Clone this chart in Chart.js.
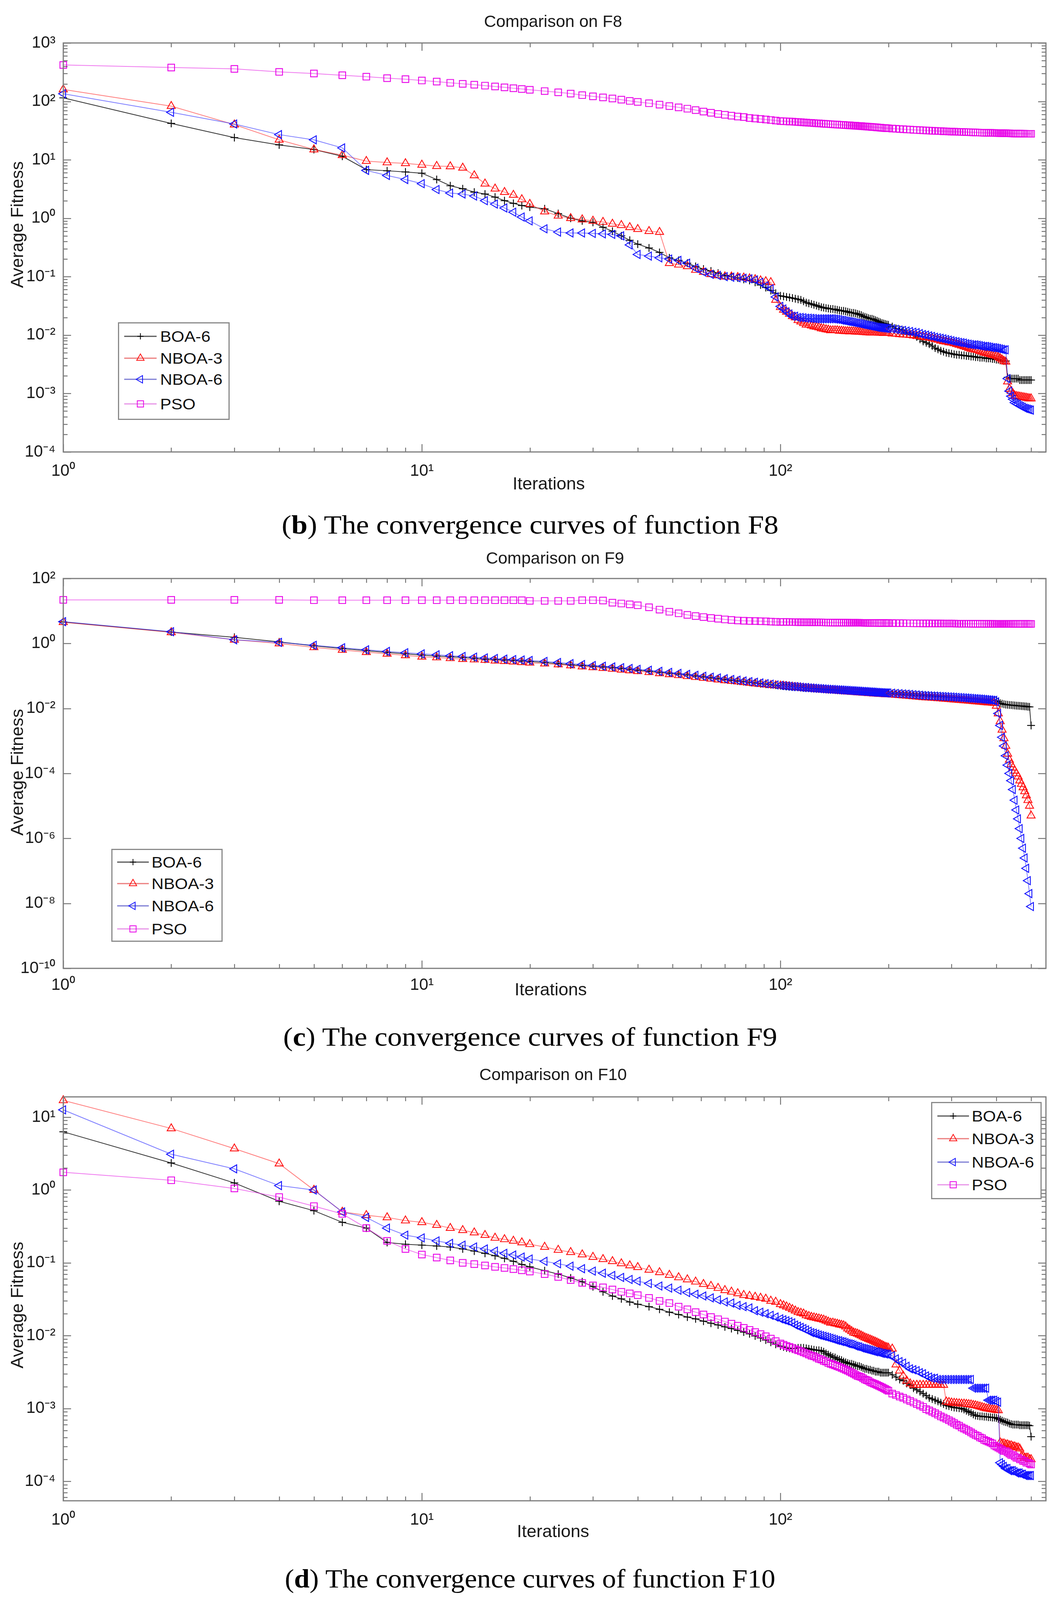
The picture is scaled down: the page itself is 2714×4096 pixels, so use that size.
<!DOCTYPE html>
<html><head><meta charset="utf-8">
<script src="https://cdn.jsdelivr.net/npm/chart.js@4/dist/chart.umd.min.js"></script>
<style>
html,body{margin:0;padding:0;background:#fff;}
body{width:2714px;height:4096px;position:relative;overflow:hidden;font-family:'Liberation Sans',Arial,sans-serif;}
canvas.cv{position:absolute;left:0;}
.legend{position:absolute;background:#fff;border:3px solid #8a8a8a;box-sizing:border-box;}
.legend .txt{position:absolute;font-size:39px;color:#111;white-space:nowrap;line-height:1;transform-origin:left center;}
.legend svg{position:absolute;overflow:visible;}
.caption{position:absolute;left:0;width:2714px;text-align:center;font-family:'Liberation Serif','Times New Roman',serif;font-size:68px;line-height:76px;white-space:nowrap;color:#000;}
.caption .inner{display:inline-block;transform-origin:center center;}
</style></head><body>
<canvas id="c8" class="cv" width="2714" height="1290" style="top:0px"></canvas>
<canvas id="c9" class="cv" width="2714" height="1220" style="top:1380px"></canvas>
<canvas id="c10" class="cv" width="2714" height="1260" style="top:2700px"></canvas>
<div class="caption" style="top:1305px"><span class="inner" data-w="1272">(<b>b</b>) The convergence curves of function F8</span></div>
<div class="caption" style="top:2616px"><span class="inner" data-w="1265">(<b>c</b>) The convergence curves of function F9</span></div>
<div class="caption" style="top:4003px"><span class="inner" data-w="1256">(<b>d</b>) The convergence curves of function F10</span></div>
<script>
// ---------------- data ----------------
const seriesNames = ['BOA-6', 'NBOA-3', 'NBOA-6', 'PSO'];
const iterations = [1,2,3,4,5,6,7,8,9,10,11,12,13,14,15,16,17,18,19,20,
  22,24,26,28,30,32,34,36,38,40,
  43,46,49,52,55,58,61,64,67,70,
  73,76,79,82,85,88,91,94,97,100,
  102,104,106,108,110,112,114,116,118,120,122,124,126,128,130,132,134,136,138,140,
  142,144,146,148,150,152,154,156,158,160,162,164,166,168,170,172,174,176,178,180,
  182,184,186,188,190,192,194,196,198,200,
  205,210,215,220,225,230,235,240,245,250,255,260,265,270,275,280,285,290,295,300,
  305,310,315,320,325,330,335,340,345,350,355,360,365,370,375,380,385,390,395,400,
  405,410,415,420,425,430,435,440,445,450,455,460,465,470,475,480,485,490,495,500];

const xTickDecades = [0, 1, 2];
const f8YTickDecades = [-4, -3, -2, -1, 0, 1, 2, 3];
const f9YTickDecades = [-10, -8, -6, -4, -2, 0, 2];
const f10YTickDecades = [-4, -3, -2, -1, 0, 1];

// F8
const f8BOA6 = [115,42,24,18,15,11.5,6.8,6.5,6.2,5.9,4.6,3.6,3.2,2.8,2.6,2.3,2.0,1.8,1.65,1.55,
  1.45,1.2,1.0,0.9,0.85,0.7,0.6,0.5,0.42,0.36,
  0.31,0.26,0.21,0.19,0.17,0.15,0.135,0.125,0.115,0.105,
  0.1,0.095,0.09,0.086,0.08,0.072,0.065,0.058,0.052,0.047,
  0.046,0.045,0.044,0.043,0.042,0.041,0.04,0.038,0.036,0.035,
  0.034,0.033,0.032,0.031,0.03,0.0295,0.029,0.0285,0.028,0.028,
  0.0275,0.027,0.0265,0.026,0.026,0.0255,0.025,0.0245,0.024,0.024,
  0.0235,0.023,0.0225,0.022,0.021,0.0205,0.02,0.0195,0.019,0.019,
  0.0185,0.018,0.0175,0.017,0.0165,0.016,0.0158,0.0155,0.0152,0.015,
  0.014,0.013,0.0125,0.012,0.011,0.0105,0.01,0.0093,0.0085,0.0078,
  0.0074,0.007,0.0065,0.006,0.0057,0.0054,0.0052,0.005,0.0049,0.0048,
  0.0047,0.0046,0.0046,0.0045,0.0045,0.0044,0.0044,0.0043,0.0043,0.0042,
  0.0042,0.0041,0.0041,0.0041,0.004,0.004,0.004,0.0039,0.0039,0.0038,
  0.0038,0.0037,0.0037,0.0036,0.0036,0.0019,0.0018,0.0018,0.0018,0.0018,
  0.0018,0.0018,0.0017,0.0017,0.0017,0.0017,0.0017,0.0017,0.0017,0.0017];
const f8NBOA3 = [160,83,40,22,15,12,9.5,9.0,8.7,8.2,7.8,7.7,7.3,5.4,3.9,3.2,2.8,2.5,2.1,1.75,
  1.3,1.1,1.0,0.95,0.9,0.86,0.8,0.76,0.7,0.65,
  0.6,0.58,0.17,0.16,0.15,0.13,0.12,0.11,0.105,0.1,
  0.1,0.098,0.096,0.093,0.09,0.086,0.083,0.08,0.04,0.03,
  0.027,0.025,0.023,0.021,0.02,0.018,0.017,0.016,0.015,0.015,
  0.0145,0.014,0.0138,0.0135,0.013,0.0128,0.0125,0.0123,0.012,0.012,
  0.012,0.012,0.0118,0.0118,0.0117,0.0116,0.0116,0.0115,0.0115,0.0115,
  0.0114,0.0114,0.0113,0.0113,0.0112,0.0112,0.0111,0.0111,0.011,0.011,
  0.011,0.011,0.011,0.0109,0.0109,0.0109,0.0108,0.0108,0.0108,0.0108,
  0.0106,0.0105,0.0103,0.0102,0.0101,0.01,0.0098,0.0096,0.0095,0.0093,
  0.0091,0.009,0.0088,0.0085,0.0083,0.008,0.0078,0.0077,0.0075,0.0074,
  0.0072,0.007,0.0068,0.0066,0.0064,0.0062,0.006,0.0058,0.0057,0.0056,
  0.0055,0.0053,0.0052,0.005,0.0049,0.0048,0.0047,0.0046,0.0045,0.0044,
  0.0042,0.004,0.0038,0.0036,0.0035,0.0016,0.0012,0.0011,0.001,0.00092,
  0.0009,0.00089,0.00088,0.00087,0.00086,0.00085,0.00084,0.00083,0.00082,0.00082];
const f8NBOA6 = [135,65,41,27,22,16,6.6,5.4,4.6,3.9,3.1,2.7,2.6,2.4,2.0,1.75,1.5,1.27,1.05,0.9,
  0.66,0.58,0.56,0.56,0.55,0.54,0.53,0.5,0.35,0.24,
  0.225,0.21,0.2,0.19,0.17,0.14,0.12,0.11,0.105,0.1,
  0.098,0.096,0.094,0.092,0.088,0.08,0.07,0.062,0.045,0.031,
  0.028,0.025,0.023,0.021,0.021,0.02,0.02,0.0198,0.0195,0.0195,
  0.0193,0.0192,0.019,0.019,0.019,0.019,0.019,0.019,0.019,0.019,
  0.0188,0.0186,0.0184,0.018,0.0178,0.0175,0.0172,0.017,0.0168,0.0165,
  0.0162,0.016,0.0158,0.0155,0.0152,0.015,0.0148,0.0146,0.0144,0.0142,
  0.014,0.0138,0.0136,0.0135,0.0134,0.0133,0.0132,0.0131,0.013,0.013,
  0.0128,0.0125,0.0122,0.012,0.0117,0.0115,0.0112,0.011,0.0106,0.0102,
  0.01,0.0097,0.0095,0.0092,0.009,0.0088,0.0086,0.0084,0.0082,0.008,
  0.0078,0.0077,0.0075,0.0074,0.0073,0.0071,0.007,0.0069,0.0068,0.0068,
  0.0067,0.0066,0.0065,0.0064,0.0064,0.0063,0.0062,0.0061,0.0061,0.006,
  0.0059,0.0058,0.0057,0.0056,0.0056,0.0018,0.0011,0.0009,0.0008,0.0007,
  0.00067,0.00065,0.00062,0.0006,0.00058,0.00056,0.00055,0.00054,0.00053,0.00052];
const f8PSO = [420,380,360,320,300,280,265,250,240,228,218,208,200,193,186,180,174,168,163,158,
  150,143,136,128,122,117,112,107,102,98,
  93,88,83,79,75,71,67,64,61,59,
  57,55,54,52,51,50,49,48,47,46,
  45.8,45.5,45.2,45,44.6,44.3,44,43.7,43.4,43.1,
  42.8,42.5,42.2,42,41.7,41.4,41.2,41,40.7,40.5,
  40.3,40.1,39.9,39.7,39.5,39.3,39.1,38.9,38.7,38.5,
  38.3,38.1,37.9,37.7,37.5,37.3,37.1,36.9,36.7,36.5,
  36.3,36.1,35.9,35.7,35.5,35.3,35.1,34.9,34.8,34.6,
  34.3,34,33.7,33.4,33.1,32.9,32.6,32.4,32.2,32,
  31.8,31.6,31.4,31.3,31.1,31,30.8,30.7,30.5,30.4,
  30.3,30.2,30.1,30,29.9,29.8,29.7,29.6,29.5,29.4,
  29.3,29.2,29.1,29,29,28.9,28.9,28.8,28.8,28.7,
  28.7,28.6,28.6,28.5,28.5,28.4,28.4,28.3,28.3,28.2,
  28.2,28.1,28.1,28,28,28,27.9,27.9,27.9,27.9];

// F9
const f9BOA6 = [4.6,2.25,1.55,1.12,0.85,0.7,0.6,0.53,0.48,0.44,0.41,0.39,0.37,0.35,0.33,0.32,0.31,0.3,0.29,0.28,
  0.26,0.24,0.22,0.21,0.2,0.19,0.18,0.17,0.16,0.15,
  0.14,0.13,0.122,0.115,0.108,0.1,0.094,0.088,0.083,0.078,
  0.074,0.07,0.067,0.064,0.061,0.058,0.056,0.054,0.052,0.05,
  0.049,0.048,0.047,0.046,0.046,0.045,0.044,0.043,0.043,0.042,
  0.0415,0.041,0.0405,0.04,0.0395,0.039,0.0385,0.038,0.0378,0.0375,
  0.037,0.0367,0.0363,0.036,0.0357,0.0353,0.035,0.0347,0.0343,0.034,
  0.0337,0.0334,0.0331,0.0328,0.0325,0.0322,0.0319,0.0316,0.0313,0.031,
  0.0308,0.0306,0.0304,0.0302,0.03,0.0299,0.0298,0.0297,0.0296,0.0295,
  0.029,0.0285,0.028,0.0275,0.027,0.0265,0.026,0.0255,0.0252,0.025,
  0.0247,0.0244,0.0241,0.0238,0.0235,0.0232,0.0229,0.0226,0.0223,0.022,
  0.0217,0.0214,0.0211,0.0208,0.0205,0.0202,0.02,0.0198,0.0196,0.0195,
  0.0192,0.019,0.0187,0.0185,0.0182,0.018,0.0177,0.0175,0.0172,0.017,
  0.016,0.0145,0.014,0.0135,0.0132,0.013,0.0128,0.0127,0.0125,0.0124,
  0.0122,0.0121,0.012,0.0119,0.0118,0.0116,0.0115,0.0113,0.0112,0.003];
const f9NBOA3 = [4.5,2.2,1.3,1.0,0.76,0.63,0.54,0.48,0.43,0.39,0.37,0.35,0.33,0.32,0.31,0.295,0.285,0.275,0.265,0.255,
  0.24,0.225,0.21,0.195,0.185,0.175,0.165,0.155,0.148,0.14,
  0.13,0.12,0.112,0.105,0.098,0.092,0.087,0.082,0.077,0.073,
  0.07,0.067,0.064,0.061,0.058,0.056,0.054,0.052,0.051,0.05,
  0.049,0.048,0.047,0.046,0.045,0.044,0.043,0.042,0.0415,0.041,
  0.0405,0.04,0.039,0.0385,0.038,0.0375,0.037,0.0365,0.036,0.036,
  0.0355,0.035,0.0345,0.034,0.0337,0.0333,0.033,0.0326,0.0323,0.032,
  0.0317,0.0314,0.031,0.0307,0.0304,0.0301,0.0298,0.0295,0.0292,0.029,
  0.0287,0.0285,0.0282,0.028,0.0278,0.0276,0.0274,0.0272,0.0271,0.027,
  0.0265,0.026,0.0255,0.025,0.0245,0.024,0.0235,0.023,0.0225,0.022,
  0.0217,0.0214,0.0211,0.0208,0.0205,0.0202,0.0199,0.0196,0.0193,0.019,
  0.0187,0.0185,0.0182,0.018,0.0177,0.0175,0.0172,0.017,0.0167,0.0165,
  0.0162,0.016,0.0158,0.0156,0.0154,0.0152,0.015,0.0148,0.0146,0.012,
  0.007,0.004,0.0022,0.0012,0.0007,0.0004,0.00026,0.00019,0.00015,0.00012,
  0.0001,0.00008,0.00006,0.000047,0.000037,0.000028,0.000021,0.000015,0.00001,0.000005];
const f9NBOA6 = [4.7,2.3,1.3,1.08,0.88,0.74,0.64,0.57,0.52,0.48,0.45,0.42,0.4,0.38,0.36,0.345,0.33,0.32,0.31,0.3,
  0.28,0.26,0.24,0.225,0.21,0.2,0.19,0.18,0.17,0.16,
  0.15,0.139,0.129,0.12,0.112,0.105,0.098,0.092,0.087,0.082,
  0.078,0.074,0.07,0.067,0.064,0.061,0.058,0.056,0.053,0.051,
  0.05,0.049,0.048,0.047,0.047,0.046,0.045,0.044,0.044,0.043,
  0.0425,0.042,0.0415,0.041,0.0405,0.04,0.0395,0.039,0.0388,0.0385,
  0.038,0.0377,0.0373,0.037,0.0367,0.0363,0.036,0.0357,0.0353,0.035,
  0.0347,0.0344,0.0341,0.0338,0.0335,0.0332,0.0329,0.0326,0.0323,0.032,
  0.0318,0.0315,0.0313,0.031,0.0308,0.0306,0.0304,0.0302,0.0301,0.03,
  0.0295,0.029,0.0285,0.028,0.0275,0.027,0.0265,0.026,0.0255,0.025,
  0.0248,0.0245,0.0242,0.024,0.0237,0.0234,0.0232,0.023,0.0227,0.0225,
  0.0222,0.022,0.0217,0.0215,0.0212,0.021,0.0207,0.0205,0.0202,0.02,
  0.0198,0.0195,0.0193,0.019,0.0188,0.0185,0.0183,0.018,0.0178,0.016,
  0.007,0.003,0.0013,0.0007,0.00035,0.00018,0.0001,0.00006,0.000032,0.000015,
  0.0000075,0.000004,0.000002,0.000001,0.0000005,0.00000025,0.00000012,0.00000005,0.00000002,0.000000008];
const f9PSO = [22,22,22,22,21.5,21.5,21.5,21.5,21.5,21.5,21.5,21.5,21.5,21.5,21.5,21.5,21.5,21.5,21.5,20.5,
  20.5,20.5,20.5,21.5,21.5,21,18,17,16,15,
  13,11,9.5,8.5,7.6,7,6.5,6.1,5.8,5.5,
  5.3,5.1,5,4.95,4.9,4.85,4.8,4.7,4.65,4.6,
  4.6,4.6,4.58,4.56,4.55,4.54,4.52,4.5,4.5,4.5,
  4.48,4.47,4.46,4.45,4.45,4.44,4.43,4.42,4.41,4.4,
  4.4,4.4,4.39,4.38,4.37,4.36,4.36,4.35,4.35,4.35,
  4.34,4.33,4.33,4.32,4.32,4.31,4.31,4.3,4.3,4.3,
  4.3,4.29,4.29,4.28,4.28,4.27,4.27,4.26,4.26,4.25,
  4.24,4.23,4.22,4.21,4.2,4.2,4.19,4.18,4.17,4.16,
  4.15,4.15,4.14,4.13,4.12,4.12,4.11,4.1,4.1,4.1,
  4.09,4.08,4.08,4.07,4.07,4.06,4.06,4.05,4.05,4.05,
  4.04,4.04,4.03,4.03,4.02,4.02,4.01,4.01,4,4,
  4,4,4,4,4,4,4,4,4,4,
  4,4,4,4,4,4,4,4,4,4];

// F10
const f10BOA6 = [6.3,2.35,1.25,0.7,0.52,0.36,0.3,0.19,0.18,0.175,0.17,0.165,0.155,0.145,0.135,0.125,0.115,0.105,0.095,0.088,
  0.078,0.07,0.062,0.055,0.047,0.04,0.035,0.032,0.029,0.027,
  0.025,0.023,0.021,0.0195,0.018,0.017,0.0158,0.0148,0.014,0.0132,
  0.0125,0.0118,0.0112,0.0106,0.0099,0.0093,0.0087,0.0081,0.0076,0.0072,
  0.007,0.0068,0.0067,0.0066,0.0067,0.0068,0.0068,0.0068,0.0067,0.0066,
  0.0065,0.0064,0.0063,0.0063,0.0062,0.006,0.0057,0.0055,0.0053,0.0051,
  0.005,0.0048,0.0047,0.0046,0.0044,0.0043,0.0042,0.0041,0.0041,0.004,
  0.0039,0.0038,0.0038,0.0037,0.0036,0.0035,0.0035,0.0034,0.0034,0.0033,
  0.0033,0.0032,0.0032,0.0032,0.0031,0.0031,0.0031,0.0031,0.0031,0.0031,
  0.0029,0.0027,0.0025,0.0024,0.0022,0.0021,0.0019,0.0018,0.0017,0.0016,
  0.0015,0.0014,0.00135,0.0013,0.00125,0.0012,0.00115,0.0011,0.00108,0.00105,
  0.00103,0.00102,0.00101,0.001,0.00097,0.00093,0.0009,0.00087,0.00083,0.0008,
  0.00079,0.00078,0.00078,0.00077,0.00077,0.00076,0.00076,0.00075,0.00075,0.00074,
  0.00072,0.0007,0.00068,0.00066,0.00065,0.00064,0.00062,0.00061,0.0006,0.0006,
  0.0006,0.0006,0.00059,0.00059,0.00059,0.00059,0.00059,0.00059,0.00058,0.00041];
const f10NBOA3 = [17,7.0,3.7,2.3,1.0,0.5,0.45,0.42,0.38,0.36,0.33,0.3,0.28,0.26,0.24,0.22,0.21,0.2,0.19,0.18,
  0.165,0.15,0.14,0.13,0.12,0.112,0.105,0.098,0.092,0.087,
  0.08,0.074,0.068,0.063,0.059,0.055,0.051,0.048,0.045,0.042,
  0.04,0.038,0.036,0.035,0.034,0.033,0.032,0.03,0.029,0.027,
  0.026,0.025,0.024,0.023,0.022,0.021,0.0205,0.02,0.019,0.0185,
  0.018,0.0177,0.0174,0.0171,0.0168,0.0165,0.016,0.0155,0.015,0.015,
  0.0147,0.0145,0.0142,0.014,0.0138,0.0133,0.0125,0.012,0.0115,0.011,
  0.0108,0.0106,0.0103,0.01,0.0097,0.0094,0.0092,0.009,0.0088,0.0086,
  0.0084,0.0082,0.008,0.0078,0.0076,0.0074,0.0072,0.007,0.0069,0.0068,
  0.0066,0.004,0.0033,0.0028,0.0024,0.0022,0.0021,0.0021,0.0021,0.0021,
  0.0021,0.0021,0.0021,0.0021,0.0021,0.0021,0.0021,0.00124,0.00122,0.0012,
  0.00119,0.00118,0.00117,0.00116,0.00116,0.00115,0.00114,0.00113,0.00111,0.0011,
  0.00108,0.00106,0.00104,0.00102,0.001,0.00099,0.00098,0.00097,0.00096,0.00095,
  0.00094,0.00034,0.00033,0.00033,0.00032,0.00032,0.00031,0.00031,0.0003,0.0003,
  0.00029,0.00029,0.00028,0.00022,0.00022,0.00021,0.00021,0.00021,0.0002,0.0002];
const f10NBOA6 = [12.6,3.1,1.95,1.15,1.0,0.5,0.42,0.3,0.24,0.22,0.2,0.185,0.175,0.165,0.155,0.145,0.135,0.128,0.12,0.113,
  0.105,0.097,0.09,0.083,0.077,0.072,0.067,0.063,0.059,0.056,
  0.052,0.048,0.045,0.042,0.039,0.037,0.035,0.033,0.031,0.029,
  0.028,0.026,0.025,0.024,0.022,0.021,0.02,0.019,0.018,0.017,
  0.0165,0.016,0.0155,0.015,0.014,0.0135,0.013,0.0125,0.012,0.0115,
  0.011,0.0108,0.0105,0.0102,0.01,0.0098,0.0096,0.0094,0.0092,0.009,
  0.0088,0.0086,0.0085,0.0083,0.0082,0.008,0.0078,0.0077,0.0076,0.0074,
  0.0072,0.0071,0.007,0.0068,0.0067,0.0066,0.0065,0.0064,0.0063,0.0062,
  0.0061,0.006,0.006,0.0059,0.0058,0.0057,0.0057,0.0056,0.0056,0.0055,
  0.0053,0.0048,0.0044,0.0042,0.0038,0.0035,0.0034,0.0033,0.0031,0.003,
  0.0028,0.0027,0.0026,0.0026,0.0025,0.0025,0.0025,0.0025,0.0025,0.0025,
  0.0025,0.0025,0.0025,0.0025,0.0025,0.0025,0.0025,0.0025,0.0019,0.0019,
  0.0019,0.0019,0.0019,0.0019,0.0019,0.0013,0.0013,0.0013,0.0013,0.00125,
  0.00122,0.00018,0.00017,0.00016,0.00015,0.00015,0.00014,0.00014,0.00014,0.000135,
  0.00013,0.00013,0.00013,0.000125,0.000125,0.00012,0.00012,0.00012,0.00012,0.00012];
const f10PSO = [1.75,1.36,1.05,0.8,0.6,0.47,0.3,0.2,0.155,0.13,0.118,0.108,0.1,0.096,0.092,0.088,0.085,0.082,0.079,0.076,
  0.07,0.064,0.058,0.053,0.049,0.046,0.043,0.04,0.038,0.036,
  0.033,0.03,0.028,0.025,0.023,0.021,0.0195,0.018,0.0168,0.0156,
  0.0146,0.0137,0.0128,0.012,0.0112,0.0105,0.0098,0.0091,0.0084,0.0078,
  0.0075,0.0072,0.007,0.0068,0.0065,0.0063,0.0061,0.0059,0.0057,0.0055,
  0.0053,0.0052,0.005,0.0048,0.0047,0.0045,0.0044,0.0042,0.0041,0.004,
  0.0039,0.0038,0.0037,0.0036,0.0035,0.0034,0.0033,0.0032,0.0031,0.003,
  0.0029,0.0028,0.00275,0.0027,0.0026,0.0025,0.00245,0.0024,0.0023,0.00225,
  0.0022,0.00215,0.0021,0.00205,0.002,0.00195,0.0019,0.00185,0.0018,0.00175,
  0.0016,0.00153,0.00146,0.0014,0.00133,0.00127,0.00121,0.00115,0.0011,0.00105,
  0.00098,0.00094,0.0009,0.00086,0.00082,0.00078,0.00075,0.00072,0.00069,0.00066,
  0.00063,0.0006,0.00058,0.00055,0.00053,0.00051,0.00049,0.00047,0.00045,0.00043,
  0.00042,0.0004,0.00039,0.00037,0.00036,0.00035,0.00034,0.00033,0.00031,0.0003,
  0.00029,0.00028,0.00027,0.00026,0.00026,0.00025,0.00024,0.00023,0.00023,0.00022,
  0.00021,0.00021,0.0002,0.0002,0.00019,0.00019,0.00018,0.00018,0.000175,0.00017];

// ---------------- styling ----------------
const FONT = "'Liberation Sans', Arial, sans-serif";
const seriesStyles = [
  {line: 'rgba(0,0,0,0.8)',       mark: '#000000', shape: 'cross',    rot: 0,   r: 10, order: 4, leg: '#555'},
  {line: 'rgba(255,40,40,0.6)',   mark: '#ff1010', shape: 'triangle', rot: 0,   r: 12, order: 3, leg: 'rgba(230,90,90,0.8)'},
  {line: 'rgba(40,40,255,0.6)',   mark: '#1010ff', shape: 'triangle', rot: 270, r: 12, order: 2, leg: 'rgba(90,90,200,0.8)'},
  {line: 'rgba(230,50,230,0.65)', mark: '#e800e8', shape: 'rect',     rot: 0,   r: 12, order: 1, leg: 'rgba(225,120,225,0.8)'}
];
const SUP = {'-':'\u207B','0':'\u2070','1':'\u00B9','2':'\u00B2','3':'\u00B3','4':'\u2074','5':'\u2075','6':'\u2076','7':'\u2077','8':'\u2078','9':'\u2079'};
function decadeLabel(v) {
  const e = Math.log10(v), r = Math.round(e);
  if (Math.abs(e - r) > 1e-6) return '';
  return '10' + String(r).split('').map(c => SUP[c]).join('');
}
function isDecade(v) { const e = Math.log10(v); return Math.abs(e - Math.round(e)) < 1e-6; }
function withMinors(decades, min, max) {
  const out = [];
  decades.forEach(d => { for (let m = 1; m <= 9; m++) { const v = m * Math.pow(10, d); if (v >= min * 0.9999 && v <= max * 1.0001) out.push(v); } });
  return out;
}

const framePlugin = {
  id: 'frame',
  afterDraw(chart, args, o) {
    const {ctx, chartArea: a} = chart;
    const sx = chart.scales.x, sy = chart.scales.y;
    ctx.save();
    ctx.strokeStyle = '#5a5a5a';
    ctx.lineWidth = 2;
    sx.ticks.forEach(t => {
      const p = Math.round(sx.getPixelForValue(t.value)) + 0.5;
      const L = isDecade(t.value) ? 20 : 11;
      ctx.beginPath(); ctx.moveTo(p, a.bottom); ctx.lineTo(p, a.bottom - L); ctx.stroke();
      ctx.beginPath(); ctx.moveTo(p, a.top); ctx.lineTo(p, a.top + L); ctx.stroke();
    });
    sy.ticks.forEach(t => {
      const p = Math.round(sy.getPixelForValue(t.value)) + 0.5;
      const L = isDecade(t.value) ? 20 : 11;
      ctx.beginPath(); ctx.moveTo(a.left, p); ctx.lineTo(a.left + L, p); ctx.stroke();
      ctx.beginPath(); ctx.moveTo(a.right, p); ctx.lineTo(a.right - L, p); ctx.stroke();
    });
    ctx.strokeStyle = '#7c7c7c';
    ctx.lineWidth = 3;
    ctx.strokeRect(a.left, a.top, a.right - a.left, a.bottom - a.top);
    ctx.fillStyle = '#1a1a1a';
    ctx.textAlign = 'center';
    ctx.textBaseline = 'middle';
    ctx.font = '43px ' + FONT;
    ctx.fillText(o.title, o.titlePos[0], o.titlePos[1]);
    ctx.font = '45px ' + FONT;
    ctx.fillText('Iterations', o.xlabelPos[0], o.xlabelPos[1]);
    ctx.save();
    ctx.translate(o.ylabelPos[0], o.ylabelPos[1]);
    ctx.rotate(-Math.PI / 2);
    ctx.fillText('Average Fitness', 0, 0);
    ctx.restore();
    ctx.restore();
  }
};

function makeChart(cfg) {
  const datasets = cfg.series.map((vals, i) => {
    const s = seriesStyles[i];
    return {
      label: seriesNames[i],
      data: iterations.map((x, k) => ({x: x, y: vals[k]})),
      borderColor: s.line,
      borderWidth: 2,
      pointStyle: s.shape,
      pointRotation: s.rot,
      pointRadius: s.r,
      pointBorderColor: s.mark,
      pointBackgroundColor: 'rgba(0,0,0,0)',
      pointBorderWidth: 2.2,
      tension: 0,
      fill: false,
      clip: false,
      order: s.order
    };
  });
  const xTicks = withMinors(xTickDecades, 1, 550);
  return new Chart(document.getElementById(cfg.id), {
    type: 'line',
    data: {datasets: datasets},
    options: {
      responsive: false,
      animation: false,
      devicePixelRatio: 1,
      layout: {padding: cfg.pad},
      plugins: {legend: {display: false}, tooltip: {enabled: false}, frame: cfg.frame},
      scales: {
        x: {
          type: 'logarithmic', position: 'bottom', min: 1, max: 550,
          grid: {display: false, drawTicks: false}, border: {display: false},
          ticks: {autoSkip: false, maxRotation: 0, minRotation: 0, padding: cfg.xPad, color: '#1a1a1a',
                  font: {family: FONT, size: 42}, callback: v => decadeLabel(v)},
          afterBuildTicks: s => { s.ticks = xTicks.map(v => ({value: v})); },
          afterFit: s => { s.height = 100; }
        },
        y: {
          type: 'logarithmic', position: 'left', min: cfg.ymin, max: cfg.ymax,
          grid: {display: false, drawTicks: false}, border: {display: false},
          ticks: {autoSkip: false, padding: 20, color: '#1a1a1a',
                  font: {family: FONT, size: 42}, callback: v => decadeLabel(v)},
          afterBuildTicks: s => { s.ticks = cfg.yTicks.map(v => ({value: v})); },
          afterFit: s => { s.width = 162; }
        }
      }
    },
    plugins: [framePlugin]
  });
}

makeChart({id: 'c8', series: [f8BOA6, f8NBOA3, f8NBOA6, f8PSO], pad: {left: 0, right: 36, top: 110, bottom: 33},
  ymin: 1e-4, ymax: 1e3, yTicks: withMinors(f8YTickDecades, 1e-4, 1e3), xPad: 24,
  frame: {title: 'Comparison on F8', titlePos: [1416, 57], xlabelPos: [1405, 1241], ylabelPos: [47, 575]}});
makeChart({id: 'c9', series: [f9BOA6, f9NBOA3, f9NBOA6, f9PSO], pad: {left: 0, right: 36, top: 101, bottom: 21},
  ymin: 1e-10, ymax: 1e2, yTicks: f9YTickDecades.map(d => Math.pow(10, d)), xPad: 18,
  frame: {title: 'Comparison on F9', titlePos: [1421, 51], xlabelPos: [1410, 1156], ylabelPos: [47, 597]}});
makeChart({id: 'c10', series: [f10BOA6, f10NBOA3, f10NBOA6, f10PSO], pad: {left: 0, right: 36, top: 108, bottom: 18},
  ymin: 5.4e-5, ymax: 19, yTicks: withMinors([-5].concat(f10YTickDecades), 5.4e-5, 19), xPad: 24,
  frame: {title: 'Comparison on F10', titlePos: [1416, 53], xlabelPos: [1416, 1223], ylabelPos: [47, 641]}});

// ---------------- legends (HTML) ----------------
const legends = [
  {box: [302, 825, 286, 250], rows: [861, 917, 971, 1034], line: [318, 401], text: 410},
  {box: [285, 2173, 285, 238], rows: [2207, 2262, 2319, 2378], line: [300, 381], text: 388},
  {box: [2384, 2821, 283, 249], rows: [2857, 2915, 2975, 3033], line: [2400, 2481], text: 2488}
];
function markerSVG(shape, rot, col) {
  const c = 'stroke="' + col + '" stroke-width="2" fill="none"';
  if (shape === 'cross') return '<line x1="-8" y1="0" x2="8" y2="0" ' + c + '/><line x1="0" y1="-8" x2="0" y2="8" ' + c + '/>';
  if (shape === 'rect') return '<rect x="-8" y="-8" width="16" height="16" ' + c + '/>';
  const pts = [[0,-11],[9.5,5.5],[-9.5,5.5]].map(p => {
    const a = rot * Math.PI / 180;
    return (p[0]*Math.cos(a) - p[1]*Math.sin(a)).toFixed(2) + ',' + (p[0]*Math.sin(a) + p[1]*Math.cos(a)).toFixed(2);
  }).join(' ');
  return '<polygon points="' + pts + '" ' + c + '/>';
}
legends.forEach(L => {
  const d = document.createElement('div');
  d.className = 'legend';
  d.style.left = L.box[0] + 'px'; d.style.top = L.box[1] + 'px';
  d.style.width = L.box[2] + 'px'; d.style.height = L.box[3] + 'px';
  seriesNames.forEach((name, i) => {
    const s = seriesStyles[i];
    const cy = L.rows[i] - L.box[1] - 3;
    const x0 = L.line[0] - L.box[0] - 3, x1 = L.line[1] - L.box[0] - 3;
    const mid = (x0 + x1) / 2;
    const svg = '<svg style="left:0;top:0" width="' + L.box[2] + '" height="' + L.box[3] + '">' +
      '<line x1="' + x0 + '" y1="' + cy + '" x2="' + x1 + '" y2="' + cy + '" stroke="' + s.leg + '" stroke-width="3"/>' +
      '<g transform="translate(' + mid + ',' + cy + ')">' + markerSVG(s.shape, s.rot, s.mark) + '</g></svg>';
    d.insertAdjacentHTML('beforeend', svg);
    const t = document.createElement('div');
    t.className = 'txt';
    t.textContent = name;
    t.style.left = (L.text - L.box[0] - 3) + 'px';
    t.style.top = (cy - 19) + 'px';
    t.style.transform = 'scaleX(1.1)';
    d.appendChild(t);
  });
  document.body.appendChild(d);
});

// captions: fit to the measured widths of the reference
document.querySelectorAll('.caption .inner').forEach(el => {
  const w = el.getBoundingClientRect().width;
  el.style.transform = 'scaleX(' + (parseFloat(el.dataset.w) / w).toFixed(4) + ')';
});
</script>
</body></html>
